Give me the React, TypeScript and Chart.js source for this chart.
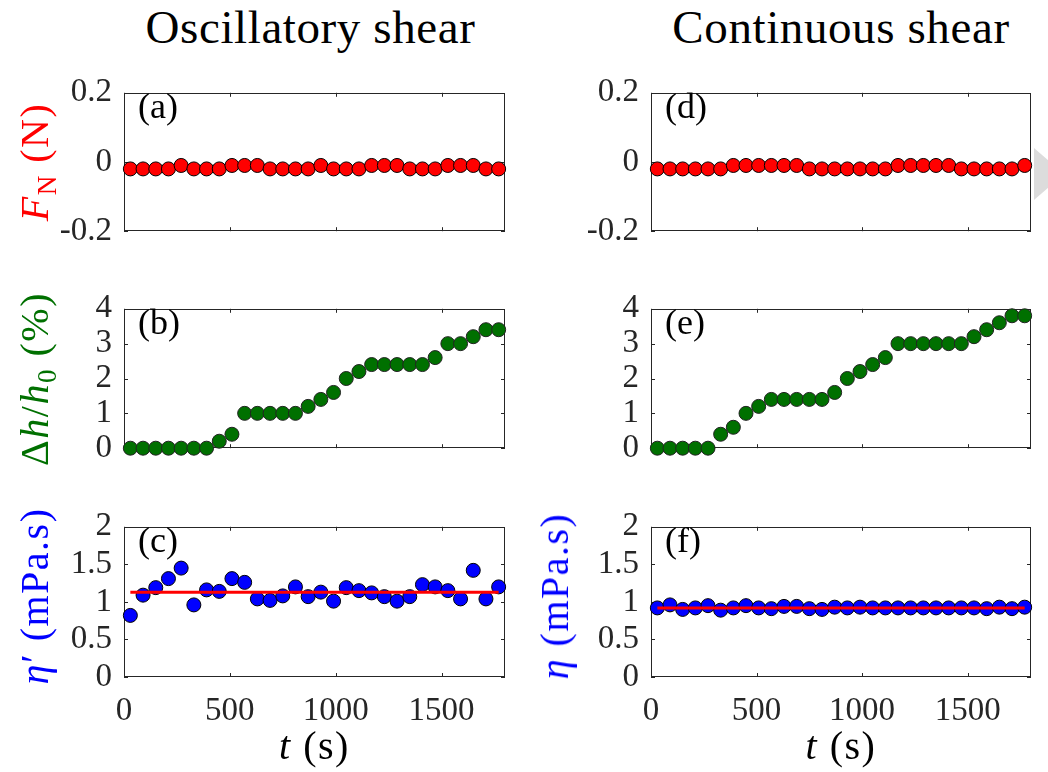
import React, { useEffect, useRef } from 'react';
import { Chart, registerables } from 'chart.js';
Chart.register(...registerables);

// ---------- data ----------
const TIME = [30, 90, 150, 210, 270, 330, 390, 450, 510, 570, 630, 690, 750, 810, 870, 930, 990, 1050, 1110, 1170, 1230, 1290, 1350, 1410, 1470, 1530, 1590, 1650, 1710, 1770];

const FN_OSC = [-0.02, -0.02, -0.02, -0.02, -0.01, -0.02, -0.02, -0.02, -0.01, -0.01, -0.01, -0.02, -0.02, -0.02, -0.02, -0.01, -0.02, -0.02, -0.02, -0.01, -0.01, -0.01, -0.02, -0.02, -0.02, -0.01, -0.01, -0.01, -0.02, -0.02];
const FN_CONT = [-0.02, -0.02, -0.02, -0.02, -0.02, -0.02, -0.01, -0.01, -0.01, -0.01, -0.01, -0.01, -0.02, -0.02, -0.02, -0.02, -0.02, -0.02, -0.02, -0.01, -0.01, -0.01, -0.01, -0.01, -0.02, -0.02, -0.02, -0.02, -0.02, -0.01];

const DH_OSC = [0, 0, 0, 0, 0, 0, 0, 0.2, 0.4, 1, 1, 1, 1, 1, 1.2, 1.4, 1.6, 2, 2.2, 2.4, 2.4, 2.4, 2.4, 2.4, 2.6, 3, 3, 3.2, 3.4, 3.4];
const DH_CONT = [0, 0, 0, 0, 0, 0.4, 0.6, 1, 1.2, 1.4, 1.4, 1.4, 1.4, 1.4, 1.6, 2, 2.2, 2.4, 2.6, 3, 3, 3, 3, 3, 3, 3.2, 3.4, 3.6, 3.8, 3.8];

const ETA_OSC = [0.82, 1.09, 1.19, 1.31, 1.45, 0.96, 1.16, 1.14, 1.31, 1.26, 1.04, 1.02, 1.08, 1.2, 1.07, 1.13, 1.01, 1.19, 1.15, 1.12, 1.07, 1.01, 1.07, 1.23, 1.2, 1.15, 1.04, 1.42, 1.04, 1.2];
const ETA_CONT = [0.92, 0.96, 0.9, 0.92, 0.95, 0.89, 0.92, 0.95, 0.92, 0.91, 0.94, 0.94, 0.91, 0.9, 0.93, 0.92, 0.93, 0.92, 0.92, 0.92, 0.92, 0.92, 0.92, 0.92, 0.92, 0.92, 0.91, 0.93, 0.91, 0.93];

const FIT_T = [30, 1770];
const FIT_OSC = [1.13, 1.13];
const FIT_CONT = [0.92, 0.92];

const T_TICKS = [0, 500, 1000, 1500];
const FN_TICKS = [-0.2, 0, 0.2];
const DH_TICKS = [0, 1, 2, 3, 4];
const ETA_TICKS = [0, 0.5, 1, 1.5, 2];

// ---------- style ----------
const SERIF = "'Liberation Serif', 'DejaVu Serif', serif";
const AXIS_COLOR = '#262626';
const RED = '#ff0000';
const GREEN = '#007000';
const BLUE = '#0000ff';

const boxPlugin = {
  id: 'matlabBox',
  beforeDatasetsDraw(chart: any) {
    const { ctx, chartArea: a, scales } = chart;
    const L = 4;
    ctx.save();
    ctx.strokeStyle = AXIS_COLOR;
    ctx.lineWidth = 1;
    ctx.beginPath();
    for (const t of scales.x.ticks) {
      const px = Math.round(scales.x.getPixelForValue(t.value)) + 0.5;
      ctx.moveTo(px, a.bottom);
      ctx.lineTo(px, a.bottom - L);
      ctx.moveTo(px, a.top);
      ctx.lineTo(px, a.top + L);
    }
    for (const t of scales.y.ticks) {
      const py = Math.round(scales.y.getPixelForValue(t.value)) + 0.5;
      ctx.moveTo(a.left, py);
      ctx.lineTo(a.left + L, py);
      ctx.moveTo(a.right, py);
      ctx.lineTo(a.right - L, py);
    }
    ctx.stroke();
    ctx.strokeRect(Math.round(a.left) + 0.5, Math.round(a.top) + 0.5, Math.round(a.right - a.left) - 1, Math.round(a.bottom - a.top) - 1);
    ctx.restore();
  },
};

type PanelProps = {
  plotLeft: number; plotTop: number; plotW: number; plotH: number;
  showX: boolean; yTicks: number[];
  values: number[]; color: string; edge: string; fit?: number[];
};

function Panel(p: PanelProps) {
  const ref = useRef<HTMLCanvasElement>(null);
  const PADL = 100, PADT = 20, PADR = 20, PADB = p.showX ? 80 : 20;
  const W = p.plotW + PADL + PADR;
  const H = p.plotH + PADT + PADB;
  useEffect(() => {
    const datasets: any[] = [{
      data: TIME.map((t, i) => ({ x: t, y: p.values[i] })),
      backgroundColor: p.color, borderColor: p.edge, borderWidth: 1,
      pointRadius: 7, pointHoverRadius: 7, showLine: false, clip: false, order: 1,
    }];
    if (p.fit) {
      datasets.push({
        data: FIT_T.map((t, i) => ({ x: t, y: p.fit![i] })),
        showLine: true, borderColor: RED, borderWidth: 3, pointRadius: 0,
        clip: false, order: 0, borderCapStyle: 'butt',
      });
    }
    const tickFont = { family: SERIF, size: 33 };
    const chart = new Chart(ref.current!, {
      type: 'scatter',
      data: { datasets },
      options: {
        animation: false, responsive: false, devicePixelRatio: 1, events: [],
        layout: { padding: { left: 0, top: PADT, right: PADR, bottom: p.showX ? 0 : PADB } },
        plugins: { legend: { display: false }, tooltip: { enabled: false } },
        scales: {
          x: {
            type: 'linear', min: 0, max: 1800,
            grid: { display: false, drawTicks: false }, border: { display: false },
            afterBuildTicks: (s: any) => { s.ticks = T_TICKS.map(v => ({ value: v })); },
            afterFit: (s: any) => { s.height = p.showX ? PADB : 0; },
            ticks: { display: p.showX, padding: 15, color: AXIS_COLOR, font: tickFont, maxRotation: 0, autoSkip: false, callback: (v: any) => String(v) },
          },
          y: {
            type: 'linear', min: p.yTicks[0], max: p.yTicks[p.yTicks.length - 1],
            grid: { display: false, drawTicks: false }, border: { display: false },
            afterBuildTicks: (s: any) => { s.ticks = p.yTicks.map(v => ({ value: v })); },
            afterFit: (s: any) => { s.width = PADL; },
            ticks: { padding: 12, color: AXIS_COLOR, font: tickFont, autoSkip: false, callback: (v: any) => String(v) },
          },
        },
      } as any,
      plugins: [boxPlugin],
    });
    return () => chart.destroy();
  }, []);
  return (
    <canvas ref={ref} width={W} height={H}
      style={{ position: 'absolute', left: p.plotLeft - PADL, top: p.plotTop - PADT, width: W, height: H }} />
  );
}

const COLS = [{ left: 124, w: 381 }, { left: 651, w: 380 }];
const ROWS = [{ top: 81, h: 162 }, { top: 297, h: 163 }, { top: 515, h: 162 }];

const sub = (t: string) => (
  <span style={{ fontSize: '0.68em', fontStyle: 'normal', position: 'relative', top: '0.3em' }}>{t}</span>
);
const it = (t: string) => <span style={{ fontStyle: 'italic' }}>{t}</span>;

function YLabel({ cx, cy, color, children }: any) {
  return (
    <div style={{
      position: 'absolute', left: cx, top: cy, transform: 'translate(-50%, -50%) rotate(-90deg)',
      whiteSpace: 'nowrap', fontSize: 40, letterSpacing: 1.5, lineHeight: 1, color,
    }}>{children}</div>
  );
}

function Centered({ cx, top, size, spacing, children }: any) {
  return (
    <div style={{ position: 'absolute', left: cx, top, transform: 'translateX(-50%)', whiteSpace: 'nowrap', fontSize: size, letterSpacing: spacing || 0, lineHeight: 1, color: '#000' }}>
      {children}
    </div>
  );
}

export default function App() {
  const letters = [['(a)', '(b)', '(c)'], ['(d)', '(e)', '(f)']];
  const panels = [
    [{ v: FN_OSC, t: FN_TICKS, c: RED, e: '#000' }, { v: DH_OSC, t: DH_TICKS, c: GREEN, e: '#222' }, { v: ETA_OSC, t: ETA_TICKS, c: BLUE, e: '#000', f: FIT_OSC }],
    [{ v: FN_CONT, t: FN_TICKS, c: RED, e: '#000' }, { v: DH_CONT, t: DH_TICKS, c: GREEN, e: '#222' }, { v: ETA_CONT, t: ETA_TICKS, c: BLUE, e: '#000', f: FIT_CONT }],
  ];
  return (
    <div style={{ position: 'absolute', left: 0, top: 0, width: 1048, height: 772, overflow: 'hidden', background: '#fff', fontFamily: SERIF }}>
      {COLS.map((col, ci) => ROWS.map((row, ri) => {
        const d: any = panels[ci][ri];
        return (
          <Panel key={`${ci}-${ri}`} plotLeft={col.left} plotTop={row.top} plotW={col.w} plotH={row.h}
            showX={ri === 2} yTicks={d.t} values={d.v} color={d.c} edge={d.e} fit={d.f} />
        );
      }))}
      {COLS.map((col, ci) => ROWS.map((row, ri) => (
        <div key={`l-${ci}-${ri}`} style={{ position: 'absolute', left: col.left + 14, top: row.top + 7, fontSize: 36, lineHeight: 1, color: '#000' }}>
          {letters[ci][ri]}
        </div>
      )))}
      <Centered cx={COLS[0].left + COLS[0].w / 2 - 4} top={4} size={47} spacing={0.6}>Oscillatory shear</Centered>
      <Centered cx={COLS[1].left + COLS[1].w / 2} top={4} size={47} spacing={0.6}>Continuous shear</Centered>
      <Centered cx={COLS[0].left + COLS[0].w / 2} top={726} size={40} spacing={1.5}>{it('t')} (s)</Centered>
      <Centered cx={COLS[1].left + COLS[1].w / 2} top={726} size={40} spacing={1.5}>{it('t')} (s)</Centered>
      <YLabel cx={35} cy={ROWS[0].top + ROWS[0].h / 2} color={RED}>{it('F')}{sub('N')} (N)</YLabel>
      <YLabel cx={35} cy={ROWS[1].top + ROWS[1].h / 2} color={GREEN}>Δ{it('h')}/{it('h')}{sub('0')} (%)</YLabel>
      <YLabel cx={35} cy={ROWS[2].top + ROWS[2].h / 2} color={BLUE}>{it('η')}′ (mPa.s)</YLabel>
      <YLabel cx={555} cy={ROWS[2].top + ROWS[2].h / 2} color={BLUE}>{it('η')} (mPa.s)</YLabel>
      <div style={{ position: 'absolute', left: 1034, top: 148, width: 0, height: 0, borderTop: '26px solid transparent', borderBottom: '26px solid transparent', borderLeft: '30px solid #dcdcdc' }} />
    </div>
  );
}
